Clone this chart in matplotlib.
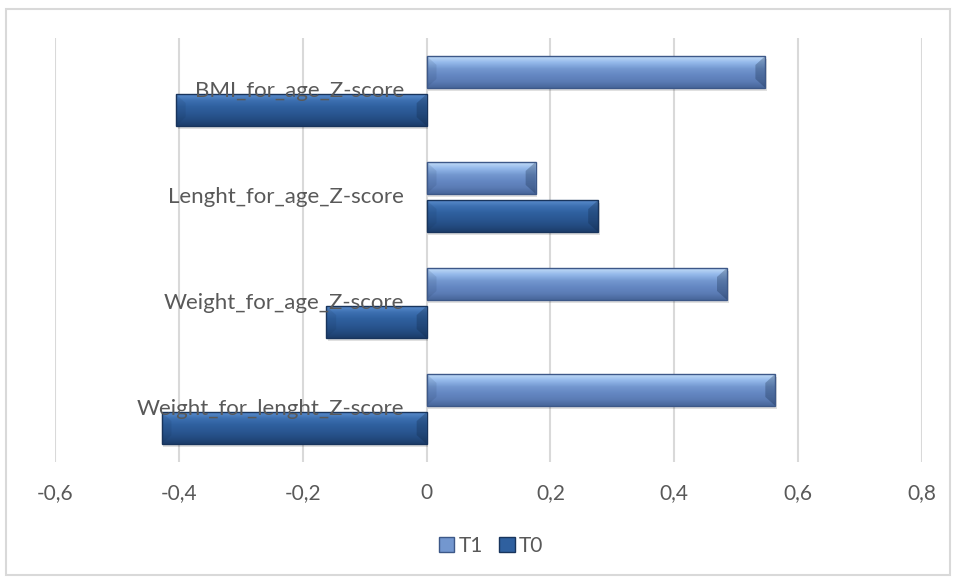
import numpy as np
import matplotlib.pyplot as plt
from matplotlib.patches import Rectangle, Polygon

plt.rcParams['font.family'] = ['Lato', 'DejaVu Sans']

# Z-score means per indicator (bottom to top)
categories = ['Weight_for_lenght_Z-score', 'Weight_for_age_Z-score',
              'Lenght_for_age_Z-score', 'BMI_for_age_Z-score']
t1_values = [0.563, 0.485, 0.176, 0.547]
t0_values = [-0.428, -0.162, 0.277, -0.405]
x_ticks = [-0.6, -0.4, -0.2, 0, 0.2, 0.4, 0.6, 0.8]
x_ticklabels = ['-0,6', '-0,4', '-0,2', '0', '0,2', '0,4', '0,6', '0,8']

# gradient stops (top -> bottom) and edge colour for each series
t1_grad = ['#c2dcf8', '#93b8ea', '#7397cf', '#6487c2', '#5b7cb5', '#48669a']
t1_edge = '#3d5888'
t0_grad = ['#5a8ccc', '#3c6fb0', '#2f609f', '#2a5792', '#244c82', '#1c3d6a']
t0_edge = '#18345c'

fig = plt.figure(figsize=(9.58, 5.79), dpi=100)
ax = fig.add_axes([55/958, 1-462/579, 867/958, 424/579])

# outer chart frame
fig.patches.append(Rectangle((6/958, 4/579), 944/958, 566/579, transform=fig.transFigure,
                             fill=False, edgecolor='#d9d9d9', linewidth=1.5))

y = np.arange(len(categories))
h = 0.30
off = 0.18


def hex_rgb(c):
    c = c.lstrip('#')
    return [int(c[i:i+2], 16)/255 for i in (0, 2, 4)]


def beveled(bars, grad, edge):
    cols = np.array([hex_rgb(c) for c in grad])
    pos = np.linspace(0, 1, len(cols))
    t = np.linspace(0, 1, 64)
    img = np.stack([np.interp(t, pos, cols[:, k]) for k in range(3)], axis=-1)
    img = img[:, None, :]
    for b in bars:
        x0, y0 = b.get_x(), b.get_y()
        w, hh = b.get_width(), b.get_height()
        x1, y1 = x0 + w, y0 + hh
        if w < 0:
            x0, x1 = x1, x0
        # soft shadow under the bar
        ax.add_patch(Rectangle((x0 + 0.003, y0 - 0.03), x1 - x0, hh, color='#000000',
                               alpha=0.12, linewidth=0, zorder=2))
        im = ax.imshow(img, extent=(x0, x1, y0, y1), origin='upper', aspect='auto',
                       zorder=3, interpolation='bilinear')
        im.set_clip_path(b)
        dx = 0.016
        dy = hh * 0.28
        # end facets of the bevel
        ax.add_patch(Polygon([(x1, y0), (x1, y1), (x1 - dx, y1 - dy), (x1 - dx, y0 + dy)],
                             closed=True, color='#10243f', alpha=0.28, linewidth=0, zorder=4))
        ax.add_patch(Polygon([(x0, y0), (x0, y1), (x0 + dx, y1 - dy), (x0 + dx, y0 + dy)],
                             closed=True, color='#10243f', alpha=0.10, linewidth=0, zorder=4))
        ax.add_patch(Rectangle((x0, y0), x1 - x0, hh, fill=False, edgecolor=edge,
                               linewidth=1.0, zorder=5))


bars1 = ax.barh(y + off, t1_values, height=h, color='none', linewidth=0, zorder=3)
bars0 = ax.barh(y - off, t0_values, height=h, color='none', linewidth=0, zorder=3)
beveled(bars1, t1_grad, t1_edge)
beveled(bars0, t0_grad, t0_edge)

ax.set_xlim(-0.6, 0.8)
ax.set_ylim(-0.5, len(categories) - 0.5)
ax.set_xticks(x_ticks)
ax.set_xticklabels(x_ticklabels, fontsize=15, color='#595959')
ax.set_yticks([])
ax.tick_params(axis='x', length=0, pad=15)
ax.grid(axis='x', color='#d9d9d9', linewidth=1.5, zorder=0)
ax.set_axisbelow(True)
for s in ax.spines.values():
    s.set_visible(False)

# category names sit next to the zero line
for yi, name in zip(y, categories):
    ax.annotate(name, xy=(0, yi), xytext=(-16, 0), textcoords='offset points',
                ha='right', va='center', fontsize=16, color='#595959', zorder=10)

handles = [Rectangle((0, 0), 1, 1, facecolor='#7397cf', edgecolor=t1_edge),
           Rectangle((0, 0), 1, 1, facecolor='#2f609f', edgecolor=t0_edge)]
fig.legend(handles, ['T1', 'T0'], loc='center', bbox_to_anchor=(491/958, 1-546/579),
           ncol=2, frameon=False, fontsize=15, labelcolor='#595959',
           handlelength=0.75, handleheight=0.75, handletextpad=0.2, columnspacing=0.8)

plt.savefig('out.png', dpi=100)
